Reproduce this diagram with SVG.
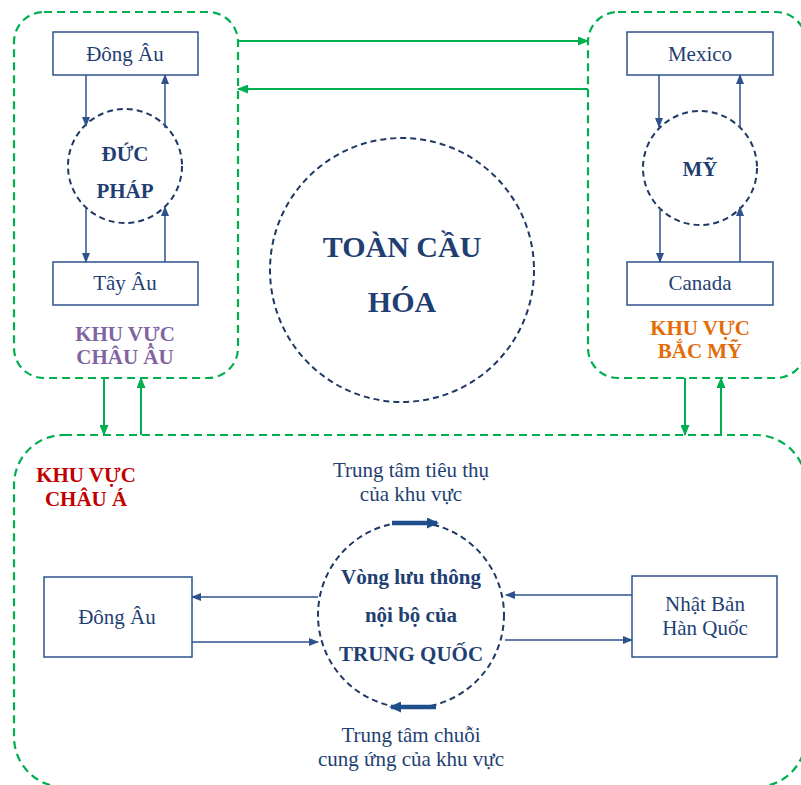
<svg xmlns="http://www.w3.org/2000/svg" width="801" height="785" viewBox="0 0 801 785">
<defs>
<style>
text{font-family:"Liberation Serif","Times New Roman",serif;text-anchor:middle}
.region{fill:none;stroke:#00B050;stroke-width:2.2;stroke-dasharray:8 5}
.box{fill:#fff;stroke:#2F528F;stroke-width:1.5}
.dc{fill:none;stroke:#203864;stroke-width:2;stroke-dasharray:6 4}
.lbl{font-size:21px;fill:#1F3F73}
.bold{font-weight:bold;font-size:21px;fill:#1F3F73}
.big{font-size:30px}
.g{stroke:#00B050;stroke-width:2;fill:none;marker-end:url(#ga)}
.b{stroke:#2F528F;stroke-width:1.5;fill:none;marker-end:url(#ba)}
.t{stroke:#1F4E8C;stroke-width:4.5;fill:none;marker-end:url(#ta)}
.reg{font-weight:bold;font-size:21px}
</style>
<marker id="ga" markerUnits="userSpaceOnUse" markerWidth="11" markerHeight="9" refX="10" refY="4.5" orient="auto"><path d="M0,0 L11,4.5 L0,9 z" fill="#00B050"/></marker>
<marker id="ba" markerUnits="userSpaceOnUse" markerWidth="10" markerHeight="8" refX="9" refY="4" orient="auto"><path d="M0,0 L10,4 L0,8 z" fill="#2F528F"/></marker>
<marker id="ta" markerUnits="userSpaceOnUse" markerWidth="12" markerHeight="11" refX="10" refY="5.5" orient="auto"><path d="M0,0 L12,5.5 L0,11 z" fill="#1F4E8C"/></marker>
</defs>

<g id="region-europe">
<rect class="region" x="14" y="12" width="224" height="366" rx="30"/>
<text class="reg" x="125" y="341" fill="#8064A2">KHU VỰC</text>
<text class="reg" x="125" y="364" fill="#8064A2">CHÂU ÂU</text>
</g>
<g id="region-namerica">
<rect class="region" x="588" y="12" width="218" height="366" rx="30"/>
<text class="reg" x="700" y="335" fill="#E36C09">KHU VỰC</text>
<text class="reg" x="700" y="358" fill="#E36C09">BẮC MỸ</text>
</g>
<g id="region-asia">
<rect class="region" x="14" y="435" width="792" height="352" rx="50"/>
<text class="reg" x="86" y="482" fill="#C00000">KHU VỰC</text>
<text class="reg" x="86" y="506" fill="#C00000">CHÂU Á</text>
</g>

<g id="eu-dongau"><rect class="box" x="53" y="32" width="145" height="43"/><text class="lbl" x="125" y="61">Đông Âu</text></g>
<g id="eu-ducphap"><circle class="dc" cx="125" cy="166" r="57"/><text class="bold" x="125" y="161">ĐỨC</text><text class="bold" x="125" y="198">PHÁP</text></g>
<g id="eu-tayau"><rect class="box" x="53" y="262" width="145" height="43"/><text class="lbl" x="125" y="290">Tây Âu</text></g>

<g id="na-mexico"><rect class="box" x="627" y="32" width="146" height="43"/><text class="lbl" x="700" y="61">Mexico</text></g>
<g id="na-my"><circle class="dc" cx="700" cy="168" r="57"/><text class="bold" x="700" y="176">MỸ</text></g>
<g id="na-canada"><rect class="box" x="627" y="262" width="146" height="43"/><text class="lbl" x="700" y="290">Canada</text></g>

<g id="global"><circle class="dc" cx="402" cy="270" r="132"/><text class="bold big" x="402" y="257">TOÀN CẦU</text><text class="bold big" x="402" y="312">HÓA</text></g>

<g id="as-dongau"><rect class="box" x="44" y="577" width="148" height="80"/><text class="lbl" x="117" y="624">Đông Âu</text></g>
<g id="as-china"><circle class="dc" cx="411" cy="615" r="93"/><text class="bold" x="411" y="584">Vòng lưu thông</text><text class="bold" x="411" y="622">nội bộ của</text><text class="bold" x="411" y="661">TRUNG QUỐC</text></g>
<g id="as-japankorea"><rect class="box" x="632" y="576" width="145" height="81"/><text class="lbl" x="705" y="611">Nhật Bản</text><text class="lbl" x="705" y="635">Hàn Quốc</text></g>
<g id="as-labels">
<text class="lbl" x="411" y="477">Trung tâm tiêu thụ</text>
<text class="lbl" x="411" y="501">của khu vực</text>
<text class="lbl" x="411" y="742">Trung tâm chuỗi</text>
<text class="lbl" x="411" y="766">cung ứng của khu vực</text>
</g>

<g id="connectors">
<line class="g" x1="238" y1="41" x2="588" y2="41"/>
<line class="g" x1="588" y1="89" x2="238" y2="89"/>
<line class="g" x1="104" y1="378" x2="104" y2="435"/>
<line class="g" x1="141" y1="435" x2="141" y2="378"/>
<line class="g" x1="685" y1="378" x2="685" y2="435"/>
<line class="g" x1="721" y1="435" x2="721" y2="378"/>

<line class="b" x1="86" y1="75" x2="86" y2="126"/>
<line class="b" x1="165" y1="128" x2="165" y2="75"/>
<line class="b" x1="86" y1="207" x2="86" y2="262"/>
<line class="b" x1="165" y1="262" x2="165" y2="207"/>

<line class="b" x1="659" y1="75" x2="659" y2="127"/>
<line class="b" x1="740" y1="128" x2="740" y2="75"/>
<line class="b" x1="660" y1="208" x2="660" y2="262"/>
<line class="b" x1="740" y1="262" x2="740" y2="207"/>

<line class="b" x1="318" y1="597" x2="192" y2="597"/>
<line class="b" x1="192" y1="642" x2="318" y2="642"/>
<line class="b" x1="632" y1="595" x2="506" y2="595"/>
<line class="b" x1="505" y1="640" x2="632" y2="640"/>

<line class="t" x1="392" y1="523" x2="437" y2="523"/>
<line class="t" x1="436" y1="707" x2="391" y2="707"/>
</g>
</svg>
